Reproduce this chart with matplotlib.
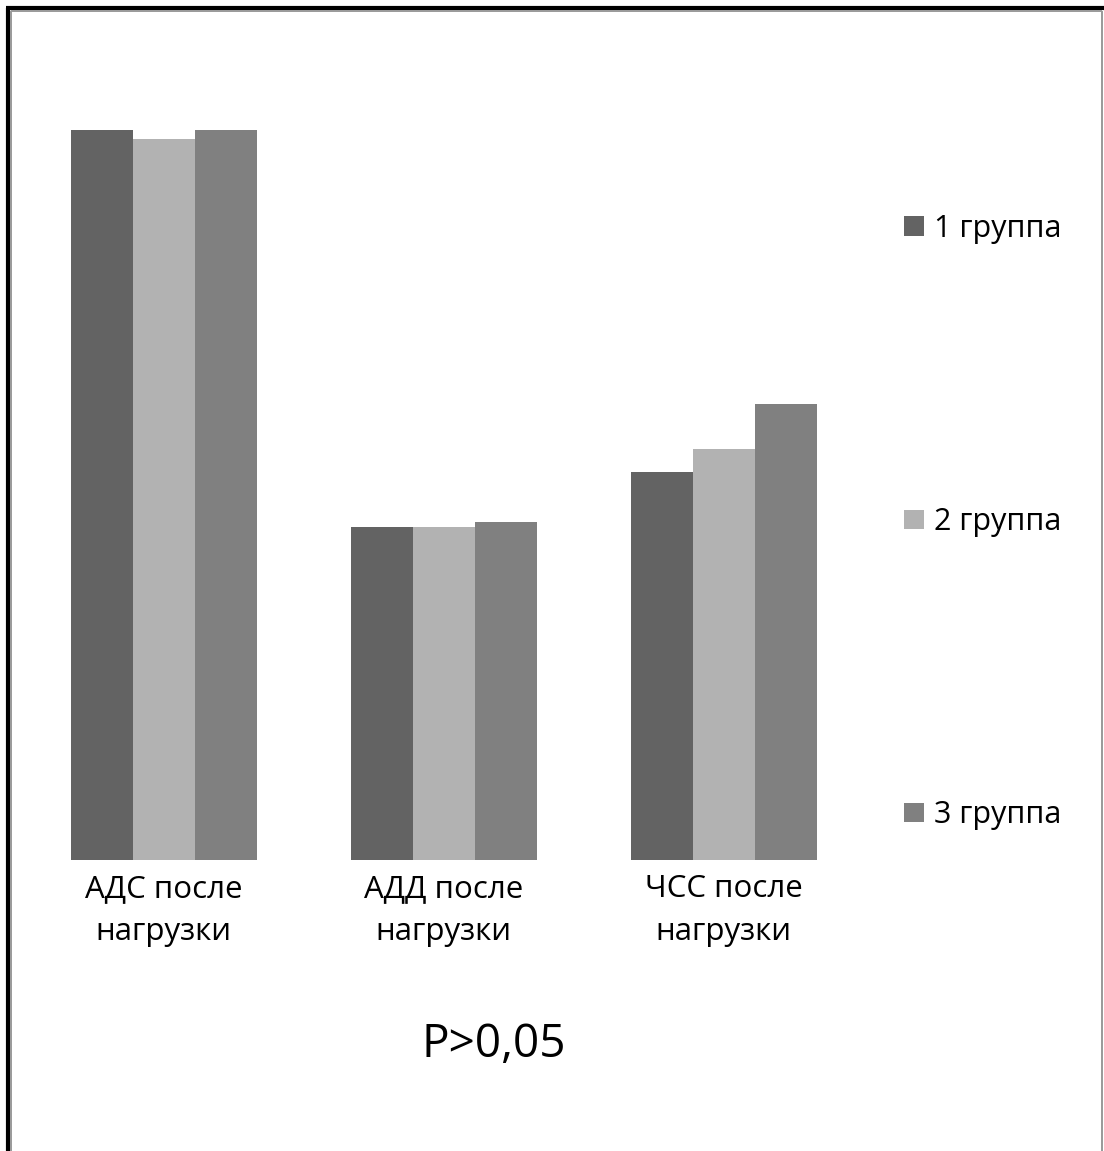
import matplotlib.pyplot as plt
from matplotlib.lines import Line2D
import numpy as np

plt.rcParams['font.family'] = ['Open Sans', 'DejaVu Sans']

# данные
categories = ['АДС после\nнагрузки', 'АДД после\nнагрузки', 'ЧСС после\nнагрузки']
groups = ['1 группа', '2 группа', '3 группа']
group1 = [160, 73, 85]
group2 = [158, 73, 90]
group3 = [160, 74, 100]
colors = ['#636363', '#b2b2b2', '#808080']

W, H = 1104, 1151
fig = plt.figure(figsize=(W / 100, H / 100), dpi=100)

# оси в пикселях: лево 23.5, право 863.5, низ 860, верх 84.4
left, right, bottom, top = 23.5, 863.5, 860, 84.4
ax = fig.add_axes([left / W, (H - bottom) / H, (right - left) / W, (bottom - top) / H])

x = np.arange(len(categories))
w = 62 / 280
bars = []
for i, (vals, c) in enumerate(zip([group1, group2, group3], colors)):
    b = ax.bar(x + (i - 1) * w, vals, width=w, color=c, label=groups[i])
    bars.append(b)

ax.set_xlim(-0.5, 2.5)
ax.set_ylim(0, 170)
ax.set_yticks([])
ax.set_xticks(x)
ax.set_xticklabels(categories, fontsize=22.5, linespacing=1.58)
ax.tick_params(axis='x', length=0, pad=10)
for s in ax.spines.values():
    s.set_visible(False)

leg = fig.legend(handles=bars, labels=groups, loc='center left',
                 bbox_to_anchor=(904 / W, (H - 522) / H), bbox_transform=fig.transFigure,
                 frameon=False, fontsize=22, labelspacing=8.62, handlelength=0.66,
                 handleheight=0.6, handletextpad=0.33, borderpad=0, borderaxespad=0)

fig.text(494 / W, (H - 1045) / H, 'P>0,05', fontsize=33, ha='center', va='center')

# рамка
def px_line(x0, y0, x1, y1, lw, c):
    fig.add_artist(Line2D([x0 / W, x1 / W], [(H - y0) / H, (H - y1) / H],
                          transform=fig.transFigure, lw=lw, color=c, solid_capstyle='butt'))

px_line(8, 8, 8, H, 3.0, 'black')
px_line(6, 8, W, 8, 3.0, 'black')
px_line(11, 11, 11, H, 1.4, '#999999')
px_line(11, 11, W - 2, 11, 1.4, '#999999')
px_line(W - 2, 11, W - 2, H, 1.4, '#999999')

fig.savefig('out.png', dpi=100)
